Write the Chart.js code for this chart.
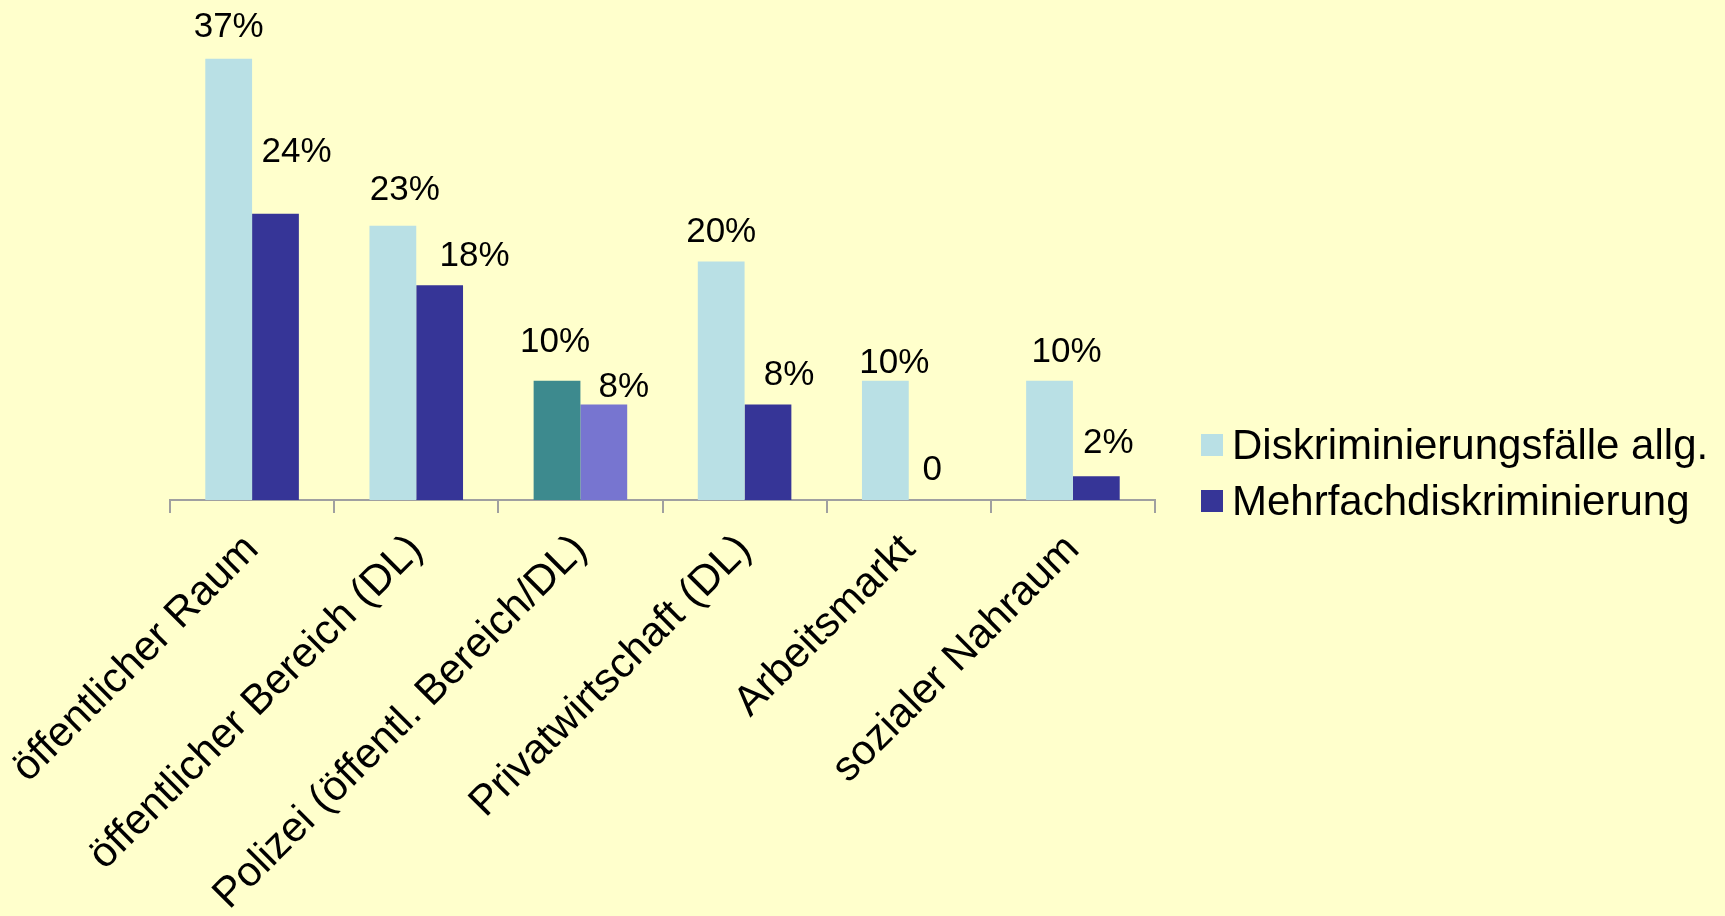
<!DOCTYPE html>
<html lang="de">
<head>
<meta charset="utf-8">
<title>Diskriminierungsfälle nach Bereich</title>
<script src="https://cdn.jsdelivr.net/npm/chart.js@4/dist/chart.umd.min.js"></script>
<style>
  html, body { margin: 0; padding: 0; background: #FFFFCC; }
  #wrap { position: relative; width: 1725px; height: 916px; overflow: hidden; }
  #legend {
    position: absolute; left: 1201px; top: 417px;
    font-family: "Liberation Sans", Arial, sans-serif; font-size: 42px; color: #000;
  }
  #legend div { height: 56px; display: flex; align-items: center; white-space: pre; }
  #legend span.box { width: 22px; height: 22px; margin-right: 9px; flex: none; }
</style>
</head>
<body>
<div id="wrap">
  <canvas id="chart" width="1725" height="916"></canvas>
  <div id="legend"></div>
</div>
<script>
// Bereiche und Anteile (in %)
const categories = [
  "öffentlicher Raum",
  "öffentlicher Bereich (DL)",
  "Polizei (öffentl. Bereich/DL)",
  "Privatwirtschaft (DL)",
  "Arbeitsmarkt",
  "sozialer Nahraum"
];
const allgemein = [37, 23, 10, 20, 10, 10];
const mehrfach = [24, 18, 8, 8, 0, 2];
const seriesNames = ["Diskriminierungsfälle allg.", "Mehrfachdiskriminierung"];

// colours (the Polizei pair is highlighted)
const lightBlue = "#B9E0E5";
const darkBlue = "#363597";
const colorsAllg = ["#B9E0E5", "#B9E0E5", "#3D8A8E", "#B9E0E5", "#B9E0E5", "#B9E0E5"];
const colorsMehr = ["#363597", "#363597", "#7775D0", "#363597", "#363597", "#363597"];

// value label nudges: [dx, gap above bar top]
const nudgeAllg = [[0, 22], [12, 26], [-2, 29], [0, 20], [9, 8], [17, 19]];
const nudgeMehr = [[21, 52], [35, 19], [20, 8], [21, 20], [0, 20], [12, 23]];

const FONT = "'Liberation Sans', Arial, sans-serif";

const valueLabels = {
  id: "valueLabels",
  afterDatasetsDraw(chart) {
    const ctx = chart.ctx;
    const nudges = [nudgeAllg, nudgeMehr];
    ctx.save();
    ctx.font = "35px " + FONT;
    ctx.fillStyle = "#000";
    ctx.textAlign = "center";
    ctx.textBaseline = "alphabetic";
    chart.data.datasets.forEach((ds, di) => {
      chart.getDatasetMeta(di).data.forEach((bar, i) => {
        const v = ds.data[i];
        const txt = v === 0 ? "0" : v + "%";
        const [dx, gap] = nudges[di][i];
        ctx.fillText(txt, bar.x + dx, bar.y - gap);
      });
    });
    ctx.restore();
  }
};

const chart = new Chart(document.getElementById("chart"), {
  type: "bar",
  data: {
    labels: categories,
    datasets: [
      { label: seriesNames[0], data: allgemein, backgroundColor: colorsAllg },
      { label: seriesNames[1], data: mehrfach, backgroundColor: colorsMehr }
    ]
  },
  options: {
    responsive: false,
    animation: false,
    layout: { padding: { left: 170, right: 570, top: 23, bottom: 0 } },
    datasets: { bar: { categoryPercentage: 0.57, barPercentage: 1.0 } },
    plugins: {
      legend: { display: false },
      tooltip: { enabled: false }
    },
    scales: {
      y: { display: false, min: 0, max: 40 },
      x: {
        afterFit(scale) {
          // fixed axis band; the long rotated labels may hang into the left margin
          scale.height = 416;
          scale.paddingLeft = 0;
          scale.paddingRight = 0;
        },
        grid: {
          offset: true,
          drawOnChartArea: false,
          drawTicks: true,
          tickLength: 13,
          color: "#A0A0A0",
          lineWidth: 2
        },
        border: { color: "#A0A0A0", width: 2 },
        ticks: {
          autoSkip: false,
          minRotation: 45,
          maxRotation: 45,
          padding: 12,
          color: "#000",
          font: { family: FONT, size: 42 }
        }
      }
    }
  },
  plugins: [valueLabels]
});

// legend
const legend = document.getElementById("legend");
[lightBlue, darkBlue].forEach((c, i) => {
  const row = document.createElement("div");
  const box = document.createElement("span");
  box.className = "box";
  box.style.background = c;
  row.appendChild(box);
  row.appendChild(document.createTextNode(seriesNames[i]));
  legend.appendChild(row);
});
</script>
</body>
</html>
